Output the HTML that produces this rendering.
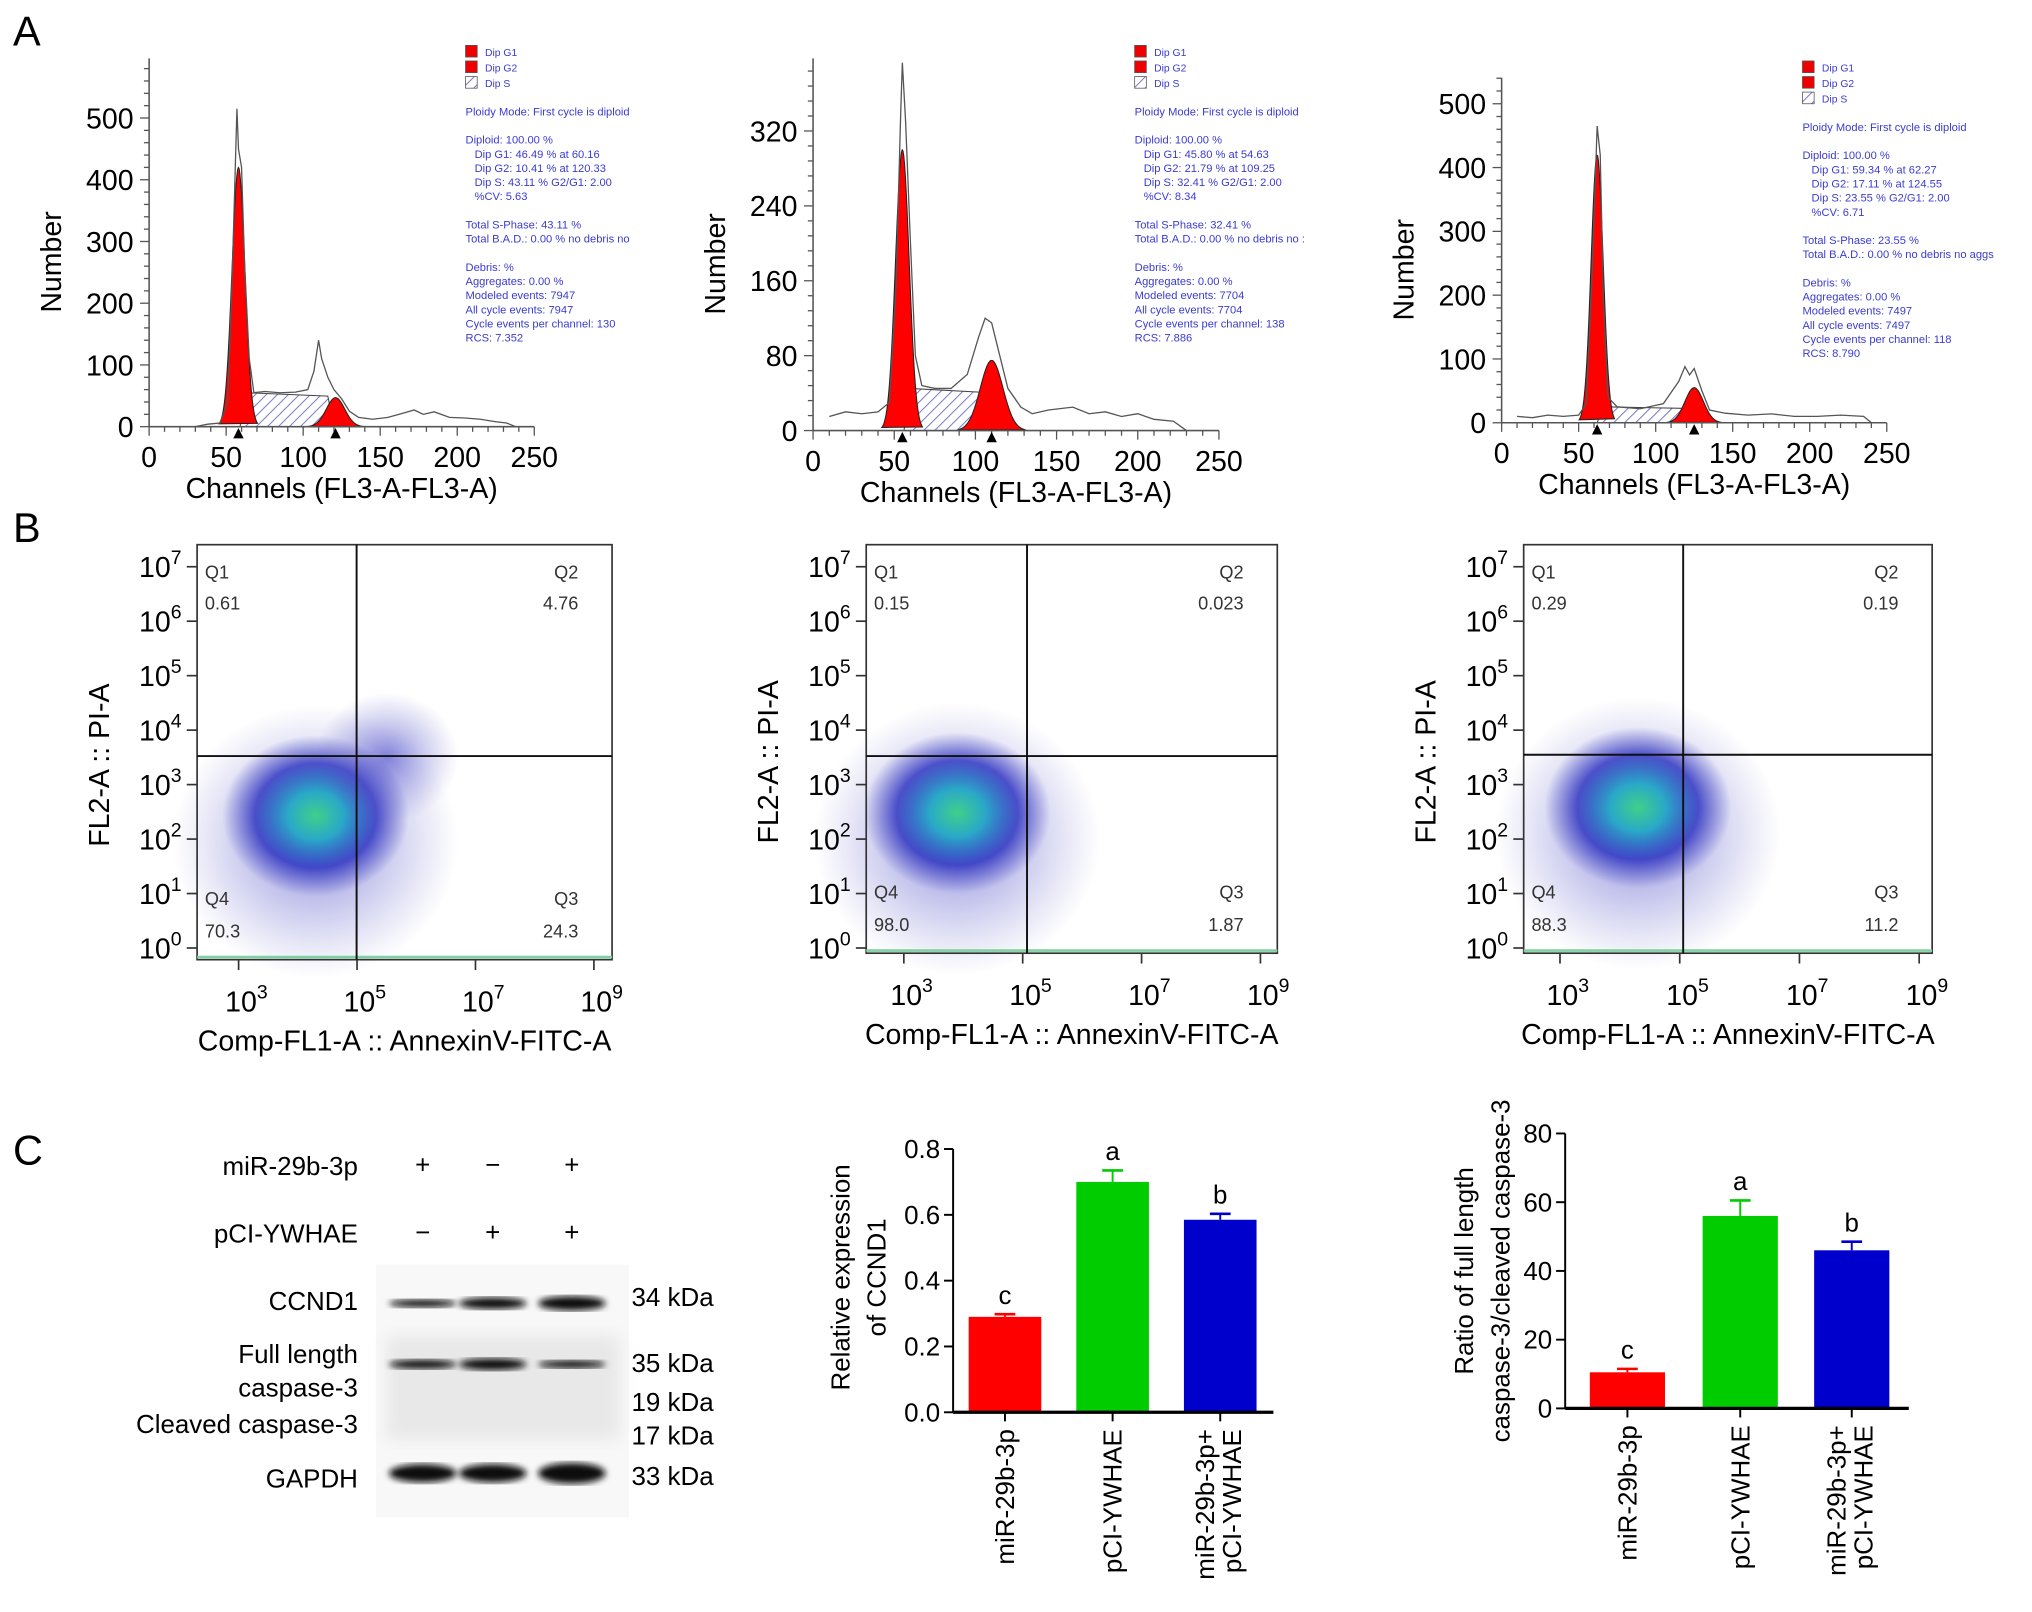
<!DOCTYPE html>
<html><head><meta charset="utf-8"><style>
html,body{margin:0;padding:0;background:#fff;}
svg{display:block;font-family:"Liberation Sans",Arial,sans-serif;}
</style></head><body>
<svg id="fig" width="2032" height="1612" viewBox="0 0 1567 1243" preserveAspectRatio="none" xmlns="http://www.w3.org/2000/svg">
<defs>
<pattern id="hatch" width="6" height="6" patternUnits="userSpaceOnUse" patternTransform="rotate(45)">
<rect width="6" height="6" fill="#fff"/><line x1="0" y1="0" x2="0" y2="6" stroke="#7b7bc8" stroke-width="1.6"/></pattern>
<radialGradient id="cloud"><stop offset="0" stop-color="#3fd08a"/><stop offset="0.3" stop-color="#2aa8c8"/><stop offset="0.65" stop-color="#2a30c0" stop-opacity="0.8"/><stop offset="1" stop-color="#4040c0" stop-opacity="0"/></radialGradient>
<radialGradient id="cloud2"><stop offset="0" stop-color="#3a3ac8" stop-opacity="0.6"/><stop offset="1" stop-color="#6060c8" stop-opacity="0"/></radialGradient>
<filter id="blur"><feGaussianBlur stdDeviation="2.5"/></filter>
<filter id="blur2"><feGaussianBlur stdDeviation="6"/></filter>
</defs>
<g id="root"></g>
</svg>
<script>
// ---------- Panel A data (channel, count) ----------
const h1Raw=[[30,0],[38,4],[46,6],[51,40],[54,250],[57,515],[58,450],[60,420],[62,260],[65,110],[68,55],[75,57],[85,55],[95,56],[103,60],[107,90],[110,140],[112,110],[116,80],[120,60],[125,45],[130,25],[136,15],[145,12],[155,15],[165,22],[172,27],[178,20],[185,24],[195,15],[205,14],[215,12],[225,8],[232,6],[238,0]];
const h1G1=[58,420,4.2];
const h1G2=[121,47,6];
const h1S=[63,116,55];
const h2Raw=[[10,15],[20,20],[30,18],[40,20],[47,30],[51,150],[54,340],[55,393],[57,330],[60,200],[63,80],[67,48],[75,45],[85,45],[95,60],[102,100],[106,120],[110,115],[115,80],[120,45],[128,25],[135,18],[145,22],[160,25],[170,18],[180,20],[190,15],[200,18],[210,12],[222,10],[230,0]];
const h2G1=[55,300,4.2];
const h2G2=[110,75,7];
const h2S=[60,108,45];
const h3Raw=[[10,10],[20,8],[30,12],[40,10],[50,12],[55,30],[59,250],[62,465],[64,420],[66,200],[69,40],[75,25],[90,22],[105,30],[115,65],[119,88],[122,75],[125,85],[130,50],[135,20],[145,15],[160,12],[175,14],[190,10],[205,10],[220,12],[235,10],[240,0]];
const h3G1=[62,420,3.9];
const h3G2=[125,55,6];
const h3S=[66,122,25];
// ---------- Panel B data ----------
const q1Labels=['0.61','4.76','24.3','70.3'];
const q2Labels=['0.15','0.023','1.87','98.0'];
const q3Labels=['0.29','0.19','11.2','88.3'];
const q1Center=[4.3,2.55];
const q2Center=[3.9,2.6];
const q3Center=[4.3,2.7];
// ---------- Panel C data ----------
const barCats=['miR-29b-3p','pCI-YWHAE','miR-29b-3p+|pCI-YWHAE'];
const ccnd1Vals=[0.29,0.70,0.585];
const ccnd1Err=[0.008,0.035,0.018];
const ccnd1Ticks=['0.0','0.2','0.4','0.6','0.8'];
const casVals=[10.5,56,46];
const casErr=[1,4.5,2.5];
const casTicks=['0','20','40','60','80'];
const sigLetters=['c','a','b'];
const barColors=['#ff0000','#00cc00','#0000cc'];

const NS='http://www.w3.org/2000/svg';
const root=document.getElementById('root');
function mk(tag,attrs,parent,text){const e=document.createElementNS(NS,tag);for(const k in attrs)e.setAttribute(k,attrs[k]);if(text!==undefined)e.textContent=text;(parent||root).appendChild(e);return e;}
function grp(name,parent){const g=mk('g',{},parent);return g;}

[['A',10,35],['B',10,418],['C',10,898]].forEach(p=>{const t=mk('text',{x:p[1],y:p[2],'font-size':32},root,p[0]);});

const statsA=[
['Ploidy Mode: First cycle is diploid','','Diploid: 100.00 %','  Dip G1: 46.49 % at 60.16','  Dip G2: 10.41 % at 120.33','  Dip S: 43.11 %   G2/G1: 2.00','  %CV: 5.63','','Total S-Phase: 43.11 %','Total B.A.D.: 0.00 %   no debris no','','Debris:  %','Aggregates: 0.00 %','Modeled events: 7947','All cycle events: 7947','Cycle events per channel: 130','RCS: 7.352'],
['Ploidy Mode: First cycle is diploid','','Diploid: 100.00 %','  Dip G1: 45.80 % at 54.63','  Dip G2: 21.79 % at 109.25','  Dip S: 32.41 %   G2/G1: 2.00','  %CV: 8.34','','Total S-Phase: 32.41 %','Total B.A.D.: 0.00 %   no debris no :','','Debris:  %','Aggregates: 0.00 %','Modeled events: 7704','All cycle events: 7704','Cycle events per channel: 138','RCS: 7.886'],
['Ploidy Mode: First cycle is diploid','','Diploid: 100.00 %','  Dip G1: 59.34 % at 62.27','  Dip G2: 17.11 % at 124.55','  Dip S: 23.55 %   G2/G1: 2.00','  %CV: 6.71','','Total S-Phase: 23.55 %','Total B.A.D.: 0.00 %   no debris no aggs','','Debris:  %','Aggregates: 0.00 %','Modeled events: 7497','All cycle events: 7497','Cycle events per channel: 118','RCS: 8.790']];
function hist(i,cfg,raw,G1,G2,S){
  const g=grp('histogram-'+(i+1));
  const X=c=>cfg.x0+(cfg.x1-cfg.x0)*c/250;
  const Y=v=>cfg.y0-v*cfg.ky;
  const sp=[[X(S[0]-4),Y(0)],[X(S[0]),Y(S[2])],[X(S[1]),Y(S[2]*0.9)],[X(S[1]+4),Y(0)]];
  const s=mk('polygon',{points:sp.map(p=>p.join(',')).join(' '),fill:'url(#hatch)',stroke:'#444','stroke-width':0.8},g);
  
  [[G1,'g1-peak'],[G2,'g2-peak']].forEach(([P,n])=>{const pts=[];for(let c=P[0]-3*P[2];c<=P[0]+3*P[2];c+=0.5){pts.push([X(c),Y(P[1]*Math.exp(-0.5*((c-P[0])/P[2])**2))]);}
    const pe=mk('polygon',{points:pts.map(p=>p.join(',')).join(' '),fill:'#f00',stroke:'#222','stroke-width':0.8},g);});
  const l=mk('polyline',{points:raw.map(p=>X(p[0])+','+Y(p[1])).join(' '),fill:'none',stroke:'#555','stroke-width':1},g);
  
  mk('line',{x1:cfg.x0,y1:cfg.top,x2:cfg.x0,y2:cfg.y0,stroke:'#555','stroke-width':1.2},g);
  mk('line',{x1:cfg.x0,y1:cfg.y0,x2:cfg.x1,y2:cfg.y0,stroke:'#555','stroke-width':1.2},g);
  for(let c=0;c<=250;c+=10){mk('line',{x1:X(c),y1:cfg.y0,x2:X(c),y2:cfg.y0+(c%50?4:7),stroke:'#555','stroke-width':1},g);}
  for(let c=0;c<=250;c+=50){const t=mk('text',{x:X(c),y:cfg.y0+31,'font-size':22,'text-anchor':'middle'},g,String(c));}
  for(let v=0;v*cfg.ky<=cfg.y0-cfg.top;v+=cfg.minor){const maj=v%cfg.major===0;mk('line',{x1:cfg.x0,y1:Y(v),x2:cfg.x0-(maj?7:4),y2:Y(v),stroke:'#555','stroke-width':1},g);
    if(maj){const t=mk('text',{x:cfg.x0-12,y:Y(v)+8,'font-size':22,'text-anchor':'end'},g,String(v));}}
  [G1[0],G2[0]].forEach(c=>mk('polygon',{points:`${X(c)-4},${cfg.y0+9} ${X(c)+4},${cfg.y0+9} ${X(c)},${cfg.y0+1}`,fill:'#000'},g));
  const yt=mk('text',{x:0,y:0,'font-size':22,'text-anchor':'middle',transform:`translate(${cfg.x0-68},${(cfg.top+cfg.y0)/2+15}) rotate(-90)`},g,'Number');
  const xt=mk('text',{x:(cfg.x0+cfg.x1)/2,y:cfg.y0+55,'font-size':22,'text-anchor':'middle'},g,'Channels (FL3-A-FL3-A)');
  const lg=grp('legend',g);
  [['Dip G1','#e00'],['Dip G2','#e00'],['Dip S','url(#hatch)']].forEach((d,k)=>{mk('rect',{x:cfg.lx,y:cfg.ly+k*12,width:9,height:9,fill:d[1],stroke:'#555','stroke-width':0.6},lg);mk('text',{x:cfg.lx+15,y:cfg.ly+k*12+8,'font-size':8,fill:'#3b3bd0'},lg,d[0]);});
  const st=grp('stats-text',g);
  statsA[i].forEach((s,k)=>{if(s)mk('text',{x:cfg.lx+(s.startsWith('  ')?7:0),y:cfg.ly+54+k*10.9,'font-size':8.6,fill:'#3b3bd0'},st,s.trim());});
}
hist(0,{x0:115,x1:412,y0:329,ky:238/500,top:45,minor:20,major:100,lx:359,ly:35},h1Raw,h1G1,h1G2,h1S);
hist(1,{x0:627,x1:940,y0:332,ky:231/320,top:45,minor:16,major:80,lx:875,ly:35},h2Raw,h2G1,h2G2,h2S);
hist(2,{x0:1158,x1:1455,y0:326,ky:246/500,top:60,minor:20,major:100,lx:1390,ly:47},h3Raw,h3G1,h3G2,h3S);

function flow(i,cfg,labels,center){
  const g=grp('apoptosis-plot-'+(i+1));
  const X=l=>cfg.x3+(l-3)*(cfg.x9-cfg.x3)/6;
  const Y=l=>cfg.y0-l*(cfg.y0-cfg.y7)/7;
  const cx=X(center[0]),cy=Y(center[1]);
  const c1=mk('ellipse',{cx:cx,cy:cy+25,rx:110,ry:105,fill:'url(#cloud2)'},g);
  const c2=mk('ellipse',{cx:cx,cy:cy+5,rx:72,ry:62,fill:'url(#cloud)'},g);
  if(i===0){const c3=mk('ellipse',{cx:cx+55,cy:cy-40,rx:55,ry:50,fill:'url(#cloud2)'},g);}
  mk('rect',{x:cfg.bx0,y:cfg.by0,width:cfg.bx1-cfg.bx0,height:cfg.by1-cfg.by0,fill:'none',stroke:'#333','stroke-width':1.3},g);
  mk('line',{x1:cfg.bx0,y1:cfg.by1-2,x2:cfg.bx1,y2:cfg.by1-2,stroke:'#7fd0a0','stroke-width':2},g);
  mk('line',{x1:cfg.qx,y1:cfg.by0,x2:cfg.qx,y2:cfg.by1,stroke:'#111','stroke-width':1.5},g);
  mk('line',{x1:cfg.bx0,y1:cfg.qy,x2:cfg.bx1,y2:cfg.qy,stroke:'#111','stroke-width':1.5},g);
  [['Q1',cfg.bx0+6,cfg.by0+26,'start'],[labels[0],cfg.bx0+6,cfg.by0+50,'start'],['Q2',cfg.bx1-26,cfg.by0+26,'end'],[labels[1],cfg.bx1-26,cfg.by0+50,'end'],
   ['Q4',cfg.bx0+6,cfg.by1-42,'start'],[labels[3],cfg.bx0+6,cfg.by1-17,'start'],['Q3',cfg.bx1-26,cfg.by1-42,'end'],[labels[2],cfg.bx1-26,cfg.by1-17,'end']].forEach(q=>{
    const t=mk('text',{x:q[1],y:q[2],'font-size':14,'text-anchor':q[3],fill:'#333'},g,q[0]);});
  for(let d=0;d<=7;d++){mk('line',{x1:cfg.bx0-8,y1:Y(d),x2:cfg.bx0,y2:Y(d),stroke:'#333','stroke-width':1.3},g);
    const t=mk('text',{x:cfg.bx0-12,y:Y(d)+8,'font-size':22,'text-anchor':'end'},g);
    t.textContent='10';mk('tspan',{dy:-10,'font-size':15},t,String(d));}
  for(let d=3;d<=9;d+=2){mk('line',{x1:X(d),y1:cfg.by1,x2:X(d),y2:cfg.by1+8,stroke:'#333','stroke-width':1.3},g);
    const t=mk('text',{x:X(d)+6,y:cfg.by1+40,'font-size':22,'text-anchor':'middle'},g);
    t.textContent='10';mk('tspan',{dy:-10,'font-size':15},t,String(d));}
  const yt=mk('text',{x:0,y:0,'font-size':22,'text-anchor':'middle',transform:`translate(${cfg.bx0-68},${(cfg.by0+cfg.by1)/2+10}) rotate(-90)`},g,'FL2-A :: PI-A');
  const xt=mk('text',{x:(cfg.bx0+cfg.bx1)/2,y:cfg.by1+70,'font-size':22,'text-anchor':'middle'},g,'Comp-FL1-A :: AnnexinV-FITC-A');
}
flow(0,{bx0:152,bx1:472,by0:420,by1:740,qx:275,qy:583,x3:184,x9:458,y0:731,y7:437},q1Labels,q1Center);
flow(1,{bx0:668,bx1:985,by0:420,by1:735,qx:792,qy:583,x3:697,x9:972,y0:731,y7:437},q2Labels,q2Center);
flow(2,{bx0:1175,bx1:1490,by0:420,by1:735,qx:1298,qy:582,x3:1203,x9:1480,y0:731,y7:437},q3Labels,q3Center);

const wb=grp('western-blot');
mk('rect',{x:290,y:975,width:195,height:195,fill:'#f8f8f8'},wb);
mk('rect',{x:298,y:1030,width:180,height:80,fill:'#e8e8e8',filter:'url(#blur2)'},wb);
const laneX=[326,380,441];
[['+','−','+',898],['−','+','+',950]].forEach(r=>laneX.forEach((x,k)=>mk('text',{x:x,y:r[3]+7,'font-size':20,'text-anchor':'middle'},wb,r[k])));
[['miR-29b-3p',276,906],['pCI-YWHAE',276,958],['CCND1',276,1010],['Full length',276,1051],['caspase-3',276,1077],['Cleaved caspase-3',276,1105],['GAPDH',276,1147]].forEach(l=>{const t=mk('text',{x:l[1],y:l[2],'font-size':20,'text-anchor':'end'},wb,l[0]);});
[['34 kDa',1007],['35 kDa',1058],['19 kDa',1088],['17 kDa',1114],['33 kDa',1145]].forEach(l=>mk('text',{x:487,y:l[1],'font-size':20},wb,l[0]));
[[1005,[3,4.5,5.5]],[1052,[3.5,4.5,3]],[1136,[7,7,8]]].forEach(r=>laneX.forEach((x,k)=>{const b=mk('ellipse',{cx:x,cy:r[0],rx:26,ry:r[1][k],fill:'#111',filter:'url(#blur)'},wb);}));

function bars(name,cfg,vals,errs,ticks){
  const g=grp(name);
  const max=parseFloat(ticks[ticks.length-1]);
  const Y=v=>cfg.y0-(cfg.y0-cfg.yTop)*v/max;
  ticks.forEach(t=>{const v=parseFloat(t);mk('line',{x1:cfg.ax-7,y1:Y(v),x2:cfg.ax,y2:Y(v),stroke:'#000','stroke-width':1.5},g);
    const tl=mk('text',{x:cfg.ax-10,y:Y(v)+7,'font-size':20,'text-anchor':'end'},g,t);});
  vals.forEach((v,k)=>{const cx=cfg.bx[k];
    const r=mk('rect',{x:cx-cfg.w/2,y:Y(v),width:cfg.w,height:cfg.y0-Y(v),fill:barColors[k]},g);
    const e=Y(v+errs[k]);
    mk('line',{x1:cx,y1:Y(v),x2:cx,y2:e,stroke:barColors[k],'stroke-width':1.5},g);
    mk('line',{x1:cx-8,y1:e,x2:cx+8,y2:e,stroke:barColors[k],'stroke-width':2},g);
    const s=mk('text',{x:cx,y:e-8,'font-size':20,'text-anchor':'middle'},g,sigLetters[k]);
    mk('line',{x1:cx,y1:cfg.y0,x2:cx,y2:cfg.y0+7,stroke:'#000','stroke-width':1.5},g);
    const parts=barCats[k].split('|');
    parts.forEach((p,j)=>{const off=parts.length>1?(j===0?-5:16):7;const t=mk('text',{x:0,y:0,'font-size':20,'text-anchor':'end',transform:`translate(${cx+off},${cfg.y0+13}) rotate(-90)`},g,p);});
  });
  mk('line',{x1:cfg.ax,y1:cfg.yTop,x2:cfg.ax,y2:cfg.y0,stroke:'#000','stroke-width':1.5},g);
  mk('line',{x1:cfg.ax,y1:cfg.y0,x2:cfg.xEnd,y2:cfg.y0,stroke:'#000','stroke-width':2.5},g);
  cfg.title.forEach((s,j)=>{const t=mk('text',{x:0,y:0,'font-size':20,'text-anchor':'middle',transform:`translate(${cfg.tx+j*28},${cfg.ty}) rotate(-90)`},g,s);});
}
bars('ccnd1-bar-chart',{ax:735,y0:1089,yTop:886,bx:[775,858,941],w:56,xEnd:982,title:['Relative expression','of CCND1'],tx:655,ty:985},ccnd1Vals,ccnd1Err,ccnd1Ticks);
bars('caspase-ratio-bar-chart',{ax:1207,y0:1086,yTop:874,bx:[1255,1342,1428],w:58,xEnd:1472,title:['Ratio of full length','caspase-3/cleaved caspase-3'],tx:1136,ty:980},casVals,casErr,casTicks);
</script>
</body></html>
